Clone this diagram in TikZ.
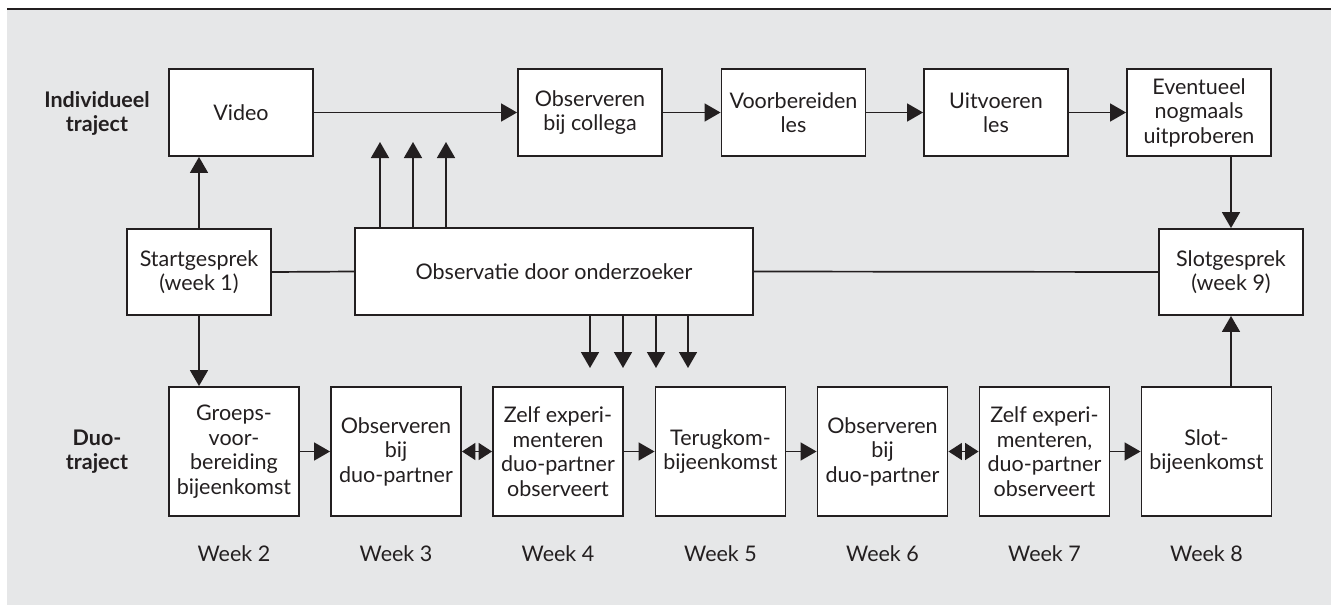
\documentclass[tikz,border=0pt]{standalone}
\usepackage{fontspec}
\setmainfont{Lato}
\usetikzlibrary{arrows.meta}
\definecolor{bggray}{HTML}{E6E7E8}
\definecolor{ink}{HTML}{231F20}
\tikzset{
  x=1pt, y=1pt,
  box/.style={draw=ink, line width=1.9pt, fill=white, text=ink, align=center, inner sep=0pt,
    font=\fontsize{21.5}{24.5}\selectfont},
  topbox/.style={box, minimum width=144pt, minimum height=87pt},
  gbox/.style={box, minimum width=144pt, minimum height=86pt},
  botbox/.style={box, minimum width=130pt, minimum height=129pt},
  conn/.style={draw=ink, line width=1.7pt},
  tip/.tip={Triangle[width=18pt,length=16pt]},
  dtip/.tip={Triangle[width=17pt,length=13.5pt]},
  arr/.style={conn, -tip},
  darr/.style={conn, dtip-dtip},
  lbl/.style={text=ink, align=center, font=\fontsize{21.5}{24}\bfseries\selectfont},
  wk/.style={text=ink, font=\fontsize{21.5}{24}\selectfont}
}
\begin{document}
\begin{tikzpicture}
\useasboundingbox (0,0) rectangle (1331,-605);
\fill[bggray] (7,-10) rectangle (1331,-605);
\draw[ink, line width=2pt] (7,-8.5) -- (1331,-8.5);

\node[lbl] (lind) at (97,-113) {Individueel\\traject};
\node[lbl] (lduo) at (97,-452) {Duo-\\traject};

% top row
\node[topbox] (video) at (241,-112.5) {Video};
\node[topbox] (obsc) at (590,-112.5) {Observeren\\bij collega};
\node[topbox] (voorb) at (793.5,-112.5) {Voorbereiden\\les};
\node[topbox] (uitv) at (996,-112.5) {Uitvoeren\\les};
\node[topbox] (event) at (1199,-112.5) {Eventueel\\nogmaals\\uitproberen};

% middle row
\node[gbox] (start) at (199,-272) {Startgesprek\\(week 1)};
\node[box, minimum width=398pt, minimum height=87pt] (obsv) at (554,-271.5) {Observatie door onderzoeker};
\node[gbox] (slotg) at (1231,-272) {Slotgesprek\\(week 9)};

% bottom row
\node[botbox] (b2) at (234,-451.5) {Groeps-\\voor-\\bereiding\\bijeenkomst};
\node[botbox] (b3) at (396,-451.5) {Observeren\\bij\\duo-partner};
\node[botbox] (b4) at (558,-451.5) {Zelf experi-\\menteren\\duo-partner\\observeert};
\node[botbox] (b5) at (720.5,-451.5) {Terugkom-\\bijeenkomst};
\node[botbox] (b6) at (882.5,-451.5) {Observeren\\bij\\duo-partner};
\node[botbox] (b7) at (1044.5,-451.5) {Zelf experi-\\menteren,\\duo-partner\\observeert};
\node[botbox] (b8) at (1206.5,-451.5) {Slot-\\bijeenkomst};

% week labels
\node[wk] (w2) at (234,-554) {Week 2};
\node[wk] (w3) at (396,-554) {Week 3};
\node[wk] (w4) at (558,-554) {Week 4};
\node[wk] (w5) at (720.5,-554) {Week 5};
\node[wk] (w6) at (882.5,-554) {Week 6};
\node[wk] (w7) at (1044.5,-554) {Week 7};
\node[wk] (w8) at (1206.5,-554) {Week 8};

% top row connectors
\draw[arr] (video.east) -- (obsc.west);
\draw[arr] (obsc.east) -- (voorb.west);
\draw[arr] (voorb.east) -- (uitv.west);
\draw[arr] (uitv.east) -- (event.west);

% vertical connectors
\draw[arr] (start.north) -- (start.north |- video.south);
\draw[arr] (start.south) -- (start.south |- b2.north);
\draw[arr] (slotg.north |- event.south) -- (slotg.north);
\draw[arr] (slotg.south |- b8.north) -- (slotg.south);

% middle line
\draw[conn] (start.east) -- (obsv.west);
\draw[conn] (obsv.east) -- (slotg.west);

% up arrows from observatie
\coordinate (u1) at (380,-142);
\coordinate (u2) at (413,-142);
\coordinate (u3) at (446,-142);
\draw[arr] (u1 |- obsv.north) -- (u1);
\draw[arr] (u2 |- obsv.north) -- (u2);
\draw[arr] (u3 |- obsv.north) -- (u3);

% down arrows from observatie
\coordinate (d1) at (590,-368);
\coordinate (d2) at (623,-368);
\coordinate (d3) at (656,-368);
\coordinate (d4) at (688,-368);
\draw[arr] (d1 |- obsv.south) -- (d1);
\draw[arr] (d2 |- obsv.south) -- (d2);
\draw[arr] (d3 |- obsv.south) -- (d3);
\draw[arr] (d4 |- obsv.south) -- (d4);

% bottom row connectors
\draw[arr] (b2.east) -- (b3.west);
\draw[darr] (b3.east) -- (b4.west);
\draw[arr] (b4.east) -- (b5.west);
\draw[arr] (b5.east) -- (b6.west);
\draw[darr] (b6.east) -- (b7.west);
\draw[arr] (b7.east) -- (b8.west);
\end{tikzpicture}
\end{document}
